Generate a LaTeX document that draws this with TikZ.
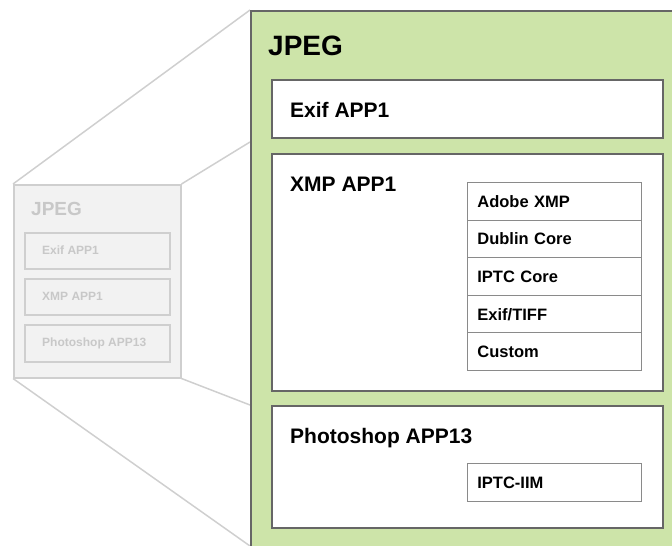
\documentclass[tikz,border=0pt]{standalone}
\usepackage{fontspec}
\setmainfont{Liberation Sans}
\usepackage{xcolor}
\definecolor{JpegGreen}{HTML}{CDE4A9}
\definecolor{BoxGray}{HTML}{666666}
\definecolor{RowGray}{HTML}{8A8A8A}
\definecolor{GhostFill}{HTML}{F2F2F2}
\definecolor{GhostLine}{HTML}{CFCFCF}
\definecolor{GhostInk}{HTML}{C8C8C8}

\begin{document}
\begin{tikzpicture}[
        % Environment Config
        x=1pt, y=-1pt,
        font=\bfseries,
        Segment/.style={% Style for the APP segments
          draw=BoxGray,
          line width=2pt,
          fill=white,
          anchor=north west,
          inner sep=0pt,
          minimum width=391pt
        },
        Field/.style={% Style for the schema rows
          draw=RowGray,
          line width=0.8pt,
          fill=white,
          anchor=north west,
          inner xsep=10pt,
          inner ysep=0pt,
          minimum width=174pt,
          minimum height=37.6pt,
          text width=154pt,
          align=left,
          text height=12pt,
          text depth=0pt,
          font=\bfseries\fontsize{16.5}{18}\selectfont
        },
        Title/.style={% Style for the segment names
          anchor=base west,
          inner sep=0pt,
          font=\bfseries\fontsize{21}{25}\selectfont
        },
        GhostBox/.style={% Style for the small grey copy
          draw=GhostLine,
          line width=1.5pt,
          fill=GhostFill,
          anchor=north west,
          inner sep=0pt
        },
        GhostText/.style={% Style for the small grey texts
          anchor=base west,
          inner sep=0pt,
          text=GhostInk,
          font=\bfseries\fontsize{12}{14}\selectfont
        },
        Zoom/.style={% Style for the projection lines
          draw=GhostLine,
          line width=1.5pt
        }
      ]

      \clip (0,0) rectangle (672,546);

      % Small grey JPEG
      \node[GhostBox, minimum width=167pt, minimum height=193pt] (sJPEG) at (13,184) {};
      \node[GhostText, font=\bfseries\fontsize{19}{22}\selectfont] (sJPEG-T) at (31,215) {JPEG};
      \node[GhostBox, minimum width=145pt, minimum height=36pt] (sExif) at (24,232) {};
      \node[GhostText] (sExif-T) at (42,254) {Exif APP1};
      \node[GhostBox, minimum width=145pt, minimum height=36pt] (sXMP) at (24,278) {};
      \node[GhostText] (sXMP-T) at (42,300) {XMP APP1};
      \node[GhostBox, minimum width=145pt, minimum height=37pt] (sPS) at (24,324) {};
      \node[GhostText] (sPS-T) at (42,346) {Photoshop APP13};

      % Projection lines
      \coordinate (Z1) at (250,10);
      \coordinate (Z2) at (250,142);
      \coordinate (Z3) at (250,405);
      \coordinate (Z4) at (250,546);
      \draw[Zoom] (sJPEG.north west) -- (Z1);
      \draw[Zoom] (sJPEG.north east) -- (Z2);
      \draw[Zoom] (sJPEG.south east) -- (Z3);
      \draw[Zoom] (sJPEG.south west) -- (Z4);

      % Big JPEG
      \node[draw=BoxGray, line width=2pt, fill=JpegGreen, anchor=north west,
            inner sep=0pt, minimum width=460pt, minimum height=560pt] (JPEG) at (Z1) {};
      \node[Title, font=\bfseries\fontsize{28}{32}\selectfont] (JPEG-T) at (268,55) {JPEG};

      %===Exif APP1===
      \node[Segment, minimum height=58pt] (Exif) at (271,79) {};
      \node[Title] (Exif-T) at (290,117) {Exif APP1};

      %===XMP APP1===
      \node[Segment, minimum height=237pt] (XMP) at (271,153) {};
      \node[Title] (XMP-T) at (290,191) {XMP APP1};
      \foreach \name [count=\i from 0] in {Adobe XMP, Dublin Core, IPTC Core, Exif/TIFF, Custom}
        \node[Field] (R\i) at (467,182+\i*37.6) {\name};

      %===Photoshop APP13===
      \node[Segment, minimum height=122pt] (PS) at (271,405) {};
      \node[Title] (PS-T) at (290,443) {Photoshop APP13};
      \node[Field] (IIM) at (467,463) {IPTC-IIM};

\end{tikzpicture}
\end{document}
